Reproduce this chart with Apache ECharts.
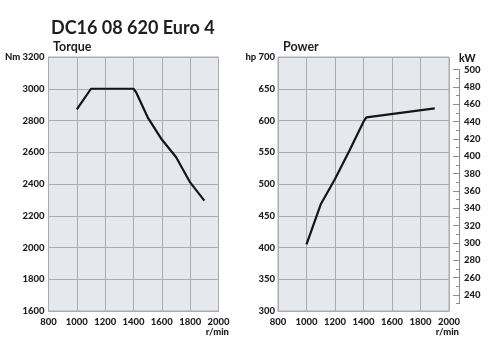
<!DOCTYPE html>
<html><head><meta charset="utf-8">
<script src="https://cdn.jsdelivr.net/npm/echarts@6/dist/echarts.min.js"></script>
<style>html,body{margin:0;padding:0;background:#fff}#c{width:500px;height:357px}</style>
</head><body><div id="c"></div>
<script>
const titleText = 'DC16 08 620 Euro 4';
const torqueTitle = 'Torque';
const powerTitle = 'Power';
const rpmTorque = [1000, 1100, 1400, 1420, 1500, 1600, 1700, 1800, 1900];
const torqueNm = [2870, 3000, 3000, 2975, 2820, 2680, 2570, 2410, 2295];
const rpmPower = [1000, 1100, 1200, 1300, 1400, 1420, 1900];
const powerHp = [405, 468, 508, 552, 598, 605, 619];
const kwMajorTicks = [240, 260, 280, 300, 320, 340, 360, 380, 400, 420, 440, 460, 480, 500];
const kwMinorTicks = [230, 250, 270, 290, 310, 330, 350, 370, 390, 410, 430, 450, 470, 490];

const FONT = 'Lato';
const TXT = '#1e1e1e';
const GRIDC = '#a9adb2';
const BG = '#e5e8ec';
const lbl = {fontFamily: FONT, fontWeight: 900, fontSize: 9.5, color: TXT};

const chart = echarts.init(document.getElementById('c'), null, {renderer: 'canvas'});
function xAx(gi) {
  return {gridIndex: gi, type: 'value', min: 800, max: 2000, interval: 200,
    axisLine: {show: true, lineStyle: {color: GRIDC, width: 1}}, axisTick: {show: false},
    axisLabel: Object.assign({margin: 6, formatter: v => String(v)}, lbl),
    splitLine: {show: true, lineStyle: {color: GRIDC, width: 1}}};
}
chart.setOption({
  animation: false,
  title: [
    {text: titleText, left: 46, top: 14, textStyle: {fontFamily: FONT, fontWeight: 'bold', fontSize: 18, color: TXT}},
    {text: torqueTitle, left: 48, top: 35, textStyle: {fontFamily: FONT, fontWeight: 'bold', fontSize: 12.5, color: TXT}},
    {text: powerTitle, left: 278, top: 35, textStyle: {fontFamily: FONT, fontWeight: 'bold', fontSize: 12.5, color: TXT}}
  ],
  grid: [
    {left: 48.5, right: 281.5, top: 57, bottom: 46, show: true, backgroundColor: BG, borderColor: GRIDC, borderWidth: 1},
    {left: 278, right: 51, top: 57, bottom: 46, show: true, backgroundColor: BG, borderColor: GRIDC, borderWidth: 1},
    {left: 278, right: 41, top: 69.5, bottom: 53.3, show: false}
  ],
  xAxis: [xAx(0), xAx(1), {gridIndex: 2, type: 'value', min: 800, max: 2000, show: false}],
  yAxis: [
    {gridIndex: 0, type: 'value', min: 1600, max: 3200, interval: 200,
      axisLine: {show: true, lineStyle: {color: GRIDC}}, axisTick: {show: false},
      axisLabel: Object.assign({margin: 4, formatter: v => v === 3200 ? 'Nm 3200' : String(v)}, lbl),
      splitLine: {show: true, lineStyle: {color: GRIDC, width: 1}}},
    {gridIndex: 1, type: 'value', min: 300, max: 700, interval: 50,
      axisLine: {show: true, lineStyle: {color: GRIDC}}, axisTick: {show: false},
      axisLabel: Object.assign({margin: 3, formatter: v => v === 700 ? 'hp 700' : String(v)}, lbl),
      splitLine: {show: true, lineStyle: {color: GRIDC, width: 1}}},
    {gridIndex: 2, type: 'value', min: 230, max: 500, position: 'right',
      name: 'kW', nameLocation: 'end', nameGap: 4,
      nameTextStyle: Object.assign({align: 'left', padding: [0, 0, 0, 0]}, lbl, {fontSize: 10.5}),
      axisLine: {show: true, lineStyle: {color: '#8a8d91', width: 1}},
      axisTick: {show: true, inside: true, length: 6, customValues: kwMajorTicks, lineStyle: {color: '#8a8d91'}},
      axisLabel: Object.assign({margin: 5, customValues: kwMajorTicks}, lbl),
      splitLine: {show: false}},
    {gridIndex: 2, type: 'value', min: 230, max: 500, position: 'right',
      axisLine: {show: false},
      axisTick: {show: true, inside: true, length: 3, customValues: kwMinorTicks, lineStyle: {color: '#8a8d91'}},
      axisLabel: {show: false},
      splitLine: {show: false}}
  ],
  graphic: [
    {type: 'text', right: 500 - 229, top: 327, style: {text: 'r/min', font: '900 9.5px Lato', fill: TXT}},
    {type: 'text', right: 500 - 459, top: 327, style: {text: 'r/min', font: '900 9.5px Lato', fill: TXT}}
  ],
  series: [
    {type: 'line', xAxisIndex: 0, yAxisIndex: 0, data: rpmTorque.map((r, i) => [r, torqueNm[i]]),
      symbol: 'none', lineStyle: {color: '#151515', width: 2.2}},
    {type: 'line', xAxisIndex: 1, yAxisIndex: 1, data: rpmPower.map((r, i) => [r, powerHp[i]]),
      symbol: 'none', lineStyle: {color: '#151515', width: 2.2}}
  ]
});
</script></body></html>
